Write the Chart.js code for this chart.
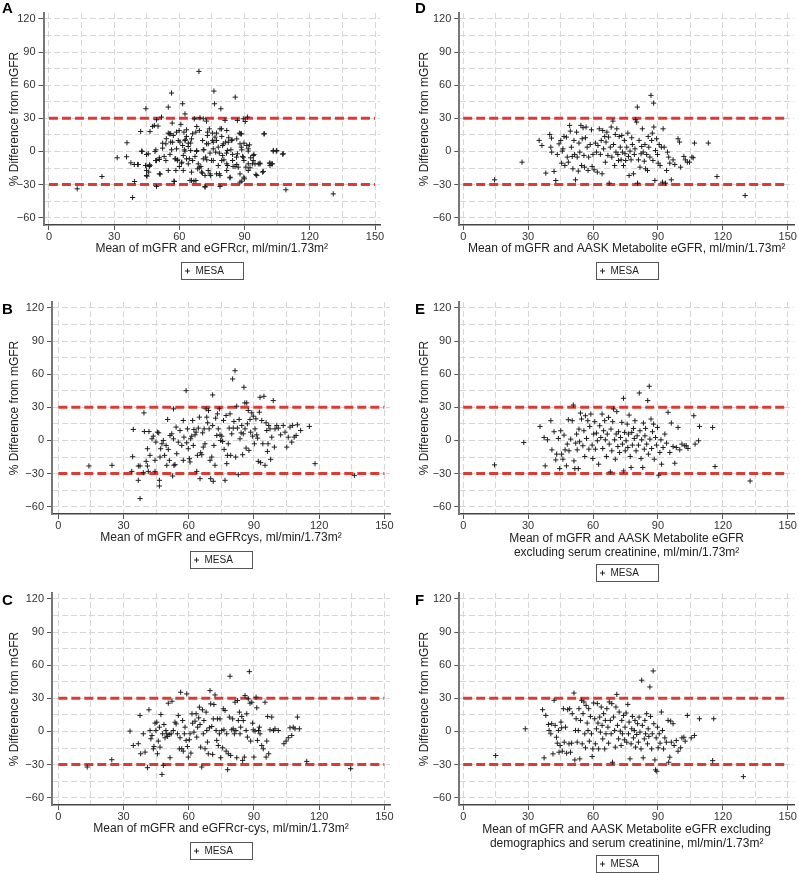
<!DOCTYPE html>
<html>
<head>
<meta charset="utf-8">
<title>Bland-Altman plots, MESA</title>
<script src="https://cdn.jsdelivr.net/npm/chart.js@4.4.1/dist/chart.umd.min.js"></script>
<style>
  body { margin: 0; background: #fff; }
  #wrap { position: relative; width: 799px; height: 873px; overflow: hidden; background: #fff; }
  #wrap canvas { position: absolute; }
</style>
</head>
<body>
<div id="wrap">
  <canvas id="panelA" width="400" height="293" style="left:0;top:0"></canvas>
  <canvas id="panelB" width="400" height="293" style="left:0;top:289px"></canvas>
  <canvas id="panelC" width="400" height="293" style="left:0;top:580px"></canvas>
  <canvas id="panelD" width="399" height="293" style="left:400px;top:0"></canvas>
  <canvas id="panelE" width="399" height="293" style="left:400px;top:289px"></canvas>
  <canvas id="panelF" width="399" height="293" style="left:400px;top:580px"></canvas>
</div>
<script>
// Tick values and labels
const xTicks = [0, 15, 30, 45, 60, 75, 90, 105, 120, 135, 150];
const yTicks = [-60, -45, -30, -15, 0, 15, 30, 45, 60, 75, 90, 105, 120];
const limitValues = [-30, 30];
const limitRange = [0, 150];
const seriesName = 'MESA';
const yTitle = '% Difference from mGFR';

const xTitles = [
  'Mean of mGFR and eGFRcr, ml/min/1.73m\u00b2',
  'Mean of mGFR and eGFRcys, ml/min/1.73m\u00b2',
  'Mean of mGFR and eGFRcr-cys, ml/min/1.73m\u00b2',
  'Mean of mGFR and AASK Metabolite eGFR, ml/min/1.73m\u00b2',
  ['Mean of mGFR and AASK Metabolite eGFR', 'excluding serum creatinine, ml/min/1.73m\u00b2'],
  ['Mean of mGFR and AASK Metabolite eGFR excluding', 'demographics and serum creatinine, ml/min/1.73m\u00b2']
];

// [mean, % difference] pairs
const pointsA = [
  [13,-33.8],[24.4,-22.7],[31.4,-5.7],[35.9,7.9],[35.7,-4.8],[37.7,-10.3],[38.5,-41.7],[39.4,-27.2],[39.3,-11.8],[40.8,-11.8],
  [42.2,18.1],[42.9,0],[44.6,38.7],[44.5,-12.7],[44.9,-2.7],[45.1,-22.4],[45.9,-18.7],[46.5,-12.7],[46.5,18],[47.7,22.7],
  [48.5,23.6],[48.8,0],[49.1,-8.2],[49.5,-31.7],[49.5,28.7],[50.2,23],[50.8,-7.3],[51.2,-20.5],[51.8,31.1],[52.3,3],
  [53,-4.5],[54,11.5],[54.9,40.2],[56.4,52.9],[55.4,16],[56,8.5],[55.7,-2.7],[56.7,25.7],[57.2,14.5],[57.7,-27.2],
  [58.3,-6.6],[58.7,17.5],[59.2,-7.6],[59.9,19],[60.3,8.5],[60.7,24.5],[61,-10.6],[61.5,43.2],[61.5,5.4],[61.8,-3.6],
  [62.3,1.5],[62.6,34],[62.7,10.6],[63.3,19.6],[64.1,-11.2],[64.6,-6.6],[65.2,7.6],[65.6,-26.3],[66.1,16],[66.9,29.6],
  [67.2,-4.5],[67.6,-26.3],[67.9,0],[68.4,-15.7],[69,72.5],[69.2,19],[69.5,30.5],[69.9,-13.6],[70.6,-19.6],[71,29.6],
  [71.3,1.5],[71.8,-32.3],[72.1,-5.1],[72.5,27.5],[72.9,14.5],[73.3,7],[73.8,20.5],[74.4,-21.8],[74.8,-8.2],[75.3,10],
  [75.9,54.7],[76.2,43.2],[76.7,-0.6],[77.1,16.6],[77.9,3.9],[78.4,-20.2],[78.7,-31.7],[79.1,38.7],[79.4,20.5],[79.9,5.4],
  [80.5,-7.6],[81,28.1],[81.3,8.5],[81.7,-1.5],[82.2,-12.7],[82.7,12.4],[83.3,-23.9],[83.7,1.5],[84.2,10.6],[84.7,-13.6],
  [85.7,49.2],[86.3,-5.1],[86.7,28.1],[87.1,-14.2],[87.9,-27.8],[88.2,16],[88.5,3.9],[89.1,-4.5],[89.4,29.6],[89.9,-24.8],
  [90.3,27.2],[90.6,-14.2],[91.3,31.1],[91.7,2.4],[92.3,6],[92.8,-5.7],[93.6,-11.2],[94.3,-2.7],[95.2,-20.8],[96.3,-11.2],
  [97.1,-10.6],[98.6,-18.1],[99.1,16],[101.4,-10.6],[102.5,-11.2],[103.2,0.3],[104.6,0.3],[107.5,-2.4],[109,-34.7],[130.8,-38.4],
  [54.9,16.6],[56,16],[62.1,17.5],[63.3,13.6],[67.6,17.5],[68,22.6],[73,17.5],[75.3,16.6],[76.4,13],[78.7,20.5],
  [81.8,19],[87.6,16.6],[88.6,16],[79.5,13.6],[98.9,16],[52.3,7.5],[53.8,6.9],[56.9,8.4],[59.5,9.9],[62.6,9.9],
  [64.1,7.5],[65.6,11.4],[70.7,9.9],[72.5,6.9],[75.6,8.4],[77.1,9.9],[80.2,6.9],[82.5,8.4],[84.1,9.9],[86.4,11.4],
  [87.9,6.9],[89.7,7.5],[91,5.4],[64.1,4.5],[42.6,0.3],[45.7,-2.1],[49.2,1.5],[56.4,1.5],[58.7,2.4],[62.6,0.3],
  [65.2,0.9],[68,0.9],[71,1.5],[74.1,-1.5],[75.6,2.4],[78.4,-1.5],[79.9,-3.7],[82.1,0.9],[84.5,-2.7],[86.7,-2.1],
  [88.7,1.5],[91.7,0.3],[94,-3.7],[103.2,0.9],[104.8,0.9],[107.8,-2.1],[94,-8.2],[41.1,-11.8],[44.6,-12.7],[46.2,-12.1],
  [49.5,-8.2],[50.8,-5.8],[53.8,-8.2],[58,-6.7],[59.1,-8.2],[61.1,-9.7],[63.3,-6.7],[66.1,-8.2],[68.7,-11.2],[71,-6.7],
  [72.6,-7.6],[75.6,-8.2],[77.9,-12.7],[79.5,-8.2],[81.8,-11.2],[84.5,-8.2],[86.4,-11.8],[89.4,-5.2],[89.7,-8.2],[91.7,-11.2],
  [94.8,-11.2],[97.1,-11.2],[101.7,-10.6],[102.8,-11.2],[44.9,-17.2],[46.2,-13.6],[50.8,-20.3],[54.9,-17.2],[58.4,-17.2],[60,-13.6],
  [61.8,-17.2],[65.6,-18.7],[69.2,-14.8],[70.2,-18.7],[71.8,-21.8],[73.3,-17.2],[74.1,-20.3],[77.1,-20.3],[78.7,-21.8],[81.8,-17.2],
  [83.3,-23.3],[85.6,-13.6],[87.9,-20.3],[91.7,-17.2],[92.5,-14.8],[95.6,-21.8],[98.3,-18.7],[101.7,-12.7],[44.9,-21.8],[57.5,-26.9],
  [64.9,-26.3],[66.7,-26.9],[71.8,-31.7],[88.7,-26.9],[89.7,-23.3]
];

const pointsB = [
  [14.1,-23.1],[24.7,-22.5],[33.8,-28],[34.2,-14.7],[34.5,10],[36.8,-23.1],[37.6,-23.1],[36.8,-36.1],[37.6,-52.6],[39.1,-29.2],
  [39.4,25],[39.6,8.1],[40.4,-18.9],[41,-23.1],[41,-7.5],[41.4,-28],[41.7,8.1],[42.2,-13.5],[43.1,1.5],[43.7,3.9],
  [44.5,-28],[44.5,-18],[44.9,-1.5],[45.6,7.5],[46.2,6.9],[46.5,-36.1],[46.5,-41.2],[46.8,-15],[47.1,-7.5],[47.7,-3],
  [48.3,0],[48.9,-13.5],[49.6,-4.5],[49.9,-22.5],[50.3,19],[50.6,-8.1],[51.1,-18],[51.4,4.5],[52.2,6],[52.6,-32.2],
  [53,28.6],[53,1.5],[53.2,-22.5],[53.7,-21.9],[54.2,12.1],[54.5,-12],[55.2,-1.5],[56,9],[56.8,-4.5],[57.5,18.1],
  [57.5,-18],[57.8,3],[58.8,45.1],[59.1,-2.1],[59.4,10.5],[59.8,-7.5],[60.3,-16.5],[60.6,-19.5],[60.9,1.5],[61.4,3.9],
  [61.8,18.1],[62.1,-4.5],[62.4,10],[62.9,5.1],[63.4,7.5],[63.7,-28],[64,-13.5],[64.4,11.2],[64.9,21.1],[65.2,-34.6],
  [65.5,-11.1],[66,-12.9],[66.4,6.9],[66.7,-6],[67.1,10.5],[67.5,-3],[68,28.6],[68.3,21.1],[68.7,16],[69.1,27.1],
  [69.4,10.5],[69.8,-18],[70.1,-34.6],[70.6,-15],[71,41.2],[71,13.6],[71.3,-37],[71.6,-4.5],[72.1,-22.5],[72.4,20.2],
  [72.9,4.5],[73.2,24.1],[73.6,10.5],[74.1,28.6],[74.4,5.1],[74.7,0],[75.2,3.9],[75.6,-0.9],[76,18.1],[76.3,-8.1],
  [76.7,-36.1],[77.2,22.6],[77.5,-21],[77.8,-13.5],[78.2,-3],[78.6,11.2],[79,24.1],[79.3,-13.5],[79.8,6],[80.2,55.7],
  [80.5,11.2],[80.8,17.2],[81.3,63.2],[81.6,-15],[82.1,31],[82.4,11.2],[82.8,-31],[83.2,19],[83.6,1.5],[84.1,6.9],
  [84.4,13.6],[84.8,-12.9],[85.1,6],[85.4,48.2],[85.8,34],[85.9,10.5],[86.4,-6.9],[86.7,34],[87,15.1],[87.4,27.1],
  [87.7,-9],[88.2,19],[88.5,7.5],[89,25],[89.4,3.9],[89.7,22],[90.2,-3],[90.5,10.5],[90.9,19.6],[91.3,5.1],
  [91.7,2.1],[92,-18.9],[92.5,25.6],[92.8,39.1],[93.1,-20.1],[93.6,18.1],[94.1,-3],[94.6,40],[95.1,-22.5],[95.6,16],
  [95.9,9],[96.2,-9.9],[96.5,-3],[96.8,13.6],[97.4,10.5],[97.7,-17.1],[98.2,3],[98.9,36.1],[99.4,-6],[99.7,10.5],
  [100.5,13.6],[101.2,11.2],[102.3,5.1],[103.5,13.6],[104.3,7.5],[105.1,-6],[105.8,3],[106.6,12.1],[107.4,-1.5],[107.8,13.6],
  [108.5,3],[109.4,4.5],[110,14.2],[111.5,9],[115.5,12.7],[118.1,-21],[136.2,-31.6]
];

const pointsC = [
  [13.3,-32.2],[24.6,-25.6],[33,0.3],[34.5,-12.7],[36.8,-11.1],[37.6,14.5],[37.9,-20.2],[39.1,-2.1],[39.9,-18.7],[41,-32.8],
  [41.7,19.6],[42.2,0.9],[42.6,-6.6],[43.1,-3.6],[43.7,-15.7],[44,-13.6],[44.5,7.5],[44.9,0.9],[45.3,8.4],[45.6,-20.2],
  [46,-8.7],[46.5,3.9],[46.8,-14.2],[47.2,15.4],[47.7,-38.9],[48,-2.1],[48.3,-30.7],[48.6,6.3],[49.1,-5.7],[49.5,0.9],
  [49.9,-2.1],[50.3,-4.5],[50.6,25.6],[51,-2.7],[51.4,-23.8],[51.9,-2.1],[52.3,27.4],[52.9,0.9],[53.7,8.4],[54.2,6.9],
  [54.8,-2.1],[55.2,14.5],[55.7,-15.7],[56,-5.7],[56.3,35.5],[56.8,-15.7],[57.2,9.9],[57.5,-17.8],[58,-2.1],[58.3,3.9],
  [58.8,-8.1],[59.1,34],[59.4,-13.6],[59.8,-23.2],[60.3,-7.5],[60.6,-2.1],[61,-19.6],[61.5,16],[61.8,7.5],[62.4,-0.6],
  [62.9,9.3],[63.4,16],[63.7,-5.1],[64.1,3.9],[64.6,12.3],[64.9,22],[65.2,6.3],[65.5,-14.2],[66,-32.2],[66.3,19.6],
  [66.7,-2.1],[67,9.9],[67.5,-15.7],[68,17.5],[68.3,0.9],[68.6,-9.6],[69,-20.2],[69.5,3.3],[69.8,37],[70.1,25],
  [70.6,4.5],[71,-20.8],[71.3,11.4],[71.6,24.4],[72.1,33.1],[72.6,0.9],[72.9,-8.1],[73.2,11.4],[73.6,-12.7],[74.1,-2.1],
  [74.4,11.4],[74.7,-23.8],[75.2,0.9],[75.6,-14.8],[75.9,20.5],[76.2,1.5],[76.7,19],[77.2,-17.8],[77.5,-2.1],[77.9,-34.6],
  [78.2,-20.2],[78.7,13],[79,50],[79.3,-21.7],[79.8,1.5],[80.2,11.4],[80.5,2.4],[81,-2.1],[81.3,26.5],[81.7,0.9],
  [82.1,-23.8],[82.4,28],[82.8,9.9],[83.3,17.5],[83.6,-2.1],[83.9,3.9],[84.4,13.6],[84.8,-26.2],[85.1,9.9],[85.6,-23.2],
  [85.9,32.5],[86.4,0.9],[86.7,16],[87,-5.1],[87.4,29.5],[87.9,54.2],[88.2,25.6],[88.5,-8.7],[89,26.5],[89.4,7.5],
  [89.7,1.5],[90,-23.2],[90.5,0.3],[91,31],[91.3,21.4],[91.6,-8.1],[92.1,0.9],[92.5,3.9],[92.8,-2.1],[93.6,-12.7],
  [94.3,-15.7],[95.1,26.5],[95.6,-23.2],[95.9,-8.7],[96.3,13.6],[96.8,-20.2],[97.4,1.5],[98.2,13],[99,0.9],[99.7,2.4],
  [101.2,0.9],[103.8,-11.1],[104.8,-8.7],[105.8,-5.7],[106.6,3.3],[107.4,-3.6],[108.1,3.9],[108.9,2.4],[110,13],[110.9,2.4],
  [114.3,-27.1],[134.5,-33.7]
];

const pointsD = [
  [14.5,-25.7],[27.2,-9.7],[35.1,10],[36.4,5.4],[38.2,-19.6],[40,15.4],[40.5,3.9],[40.8,12.1],[40.9,-0.6],[42,-18.1],
  [42.8,-26.3],[43.5,-2.7],[44.3,6.9],[45.1,10],[45.5,-10.6],[45.8,0.3],[46.1,2.4],[46.6,13.6],[47,-12.7],[47.7,13],
  [48.1,-5.1],[48.6,-9.7],[49.2,23.6],[49.5,18.4],[50,3.9],[50.4,-4.5],[50.7,-15.7],[51.2,10],[51.5,-2.7],[51.9,-25.7],
  [52.4,17.5],[52.7,-5.1],[53.2,-17.8],[53.5,7.6],[53.9,-0.6],[54.4,23.6],[54.7,-12.7],[55,11.5],[55.4,21.5],[55.8,-3.6],
  [56.1,-14.2],[56.5,12.4],[56.8,22.1],[57.3,3.9],[57.7,-17.2],[58,-5.1],[58.7,6.3],[59.3,19.6],[59.6,-13.6],[60,-2.7],
  [60.5,-16.6],[61.1,7.6],[61.6,-0.6],[62,-18.7],[62.3,5.4],[62.9,20.5],[63.4,-2.7],[63.8,10],[64.2,-20.2],[64.5,19],
  [64.9,2.4],[65.4,13.6],[65.7,-9.7],[66,8.5],[66.4,17.5],[66.9,-3.6],[67.2,13],[67.5,-28.7],[68,3.9],[68.4,22.1],
  [68.7,-5.1],[69.2,27.5],[69.5,6.3],[70,-12.7],[70.3,15.4],[70.6,-0.6],[71,20.5],[71.5,-2.7],[71.8,-8.2],[72.1,13.6],
  [72.6,3.9],[73,-7.6],[73.3,14.5],[73.6,-0.6],[74.1,-12.7],[74.5,10],[74.8,-2.1],[75.1,-8.2],[75.6,3.9],[76.1,16.6],
  [76.4,-4.5],[76.7,-21.8],[77.1,0.3],[77.6,-7.6],[77.9,12.4],[78.2,6.3],[78.7,-20.2],[79.1,-2.7],[79.4,2.4],[79.7,28.7],
  [80.2,26.6],[80.5,40.2],[80.6,-28.7],[81,-7.6],[81.3,10],[81.7,-14.2],[82.2,-2.1],[82.5,4.5],[82.8,20.5],[83.2,-0.6],
  [83.7,-8.8],[84,6.3],[84.3,-15.7],[84.8,-2.7],[85.2,-17.2],[85.5,13.6],[85.8,3.9],[86.3,-5.1],[86.8,50.8],[87.1,10],
  [87.4,16.6],[87.7,-8.2],[88,43.8],[88.1,22.1],[88.6,-26.3],[88.9,0.9],[89.4,11.5],[89.8,-2.7],[90.1,-10.6],[90.6,6.3],
  [91,-12.7],[91.6,3.9],[92.1,-27.8],[92.4,20.5],[92.9,3.9],[93.5,-28.7],[94,-17.2],[94.4,-0.6],[95,-5.1],[95.5,-10.6],
  [96.2,-25.7],[97,-7.6],[97.8,-11.8],[99.3,11.5],[100,8.5],[100.5,-14.2],[102,-4.5],[102.7,-7.6],[103.6,-9.7],[104.6,-9.7],
  [105.7,-5.1],[106.3,-5.7],[106.9,7.6],[113.3,7.6],[117.3,-22.7],[130.3,-39.9]
];

const pointsE = [
  [14.5,-22.1],[28,-1.8],[35.5,12.7],[37.4,2.7],[37.9,-23],[39,0.6],[40.5,17.9],[41,-8.5],[42,7.9],[42.8,-17.6],
  [43.2,-12.4],[44,1.8],[44.6,-25.5],[45.1,8.8],[45.5,-12.4],[46.1,-17],[46.6,4.8],[47.1,-8.5],[47.7,-23],[48.1,-3.3],
  [48.6,18.8],[48.9,-9.4],[49.7,1.2],[50.4,17.9],[50.9,32.1],[51.2,-18.5],[51.6,-25.5],[52,-2.4],[52.4,5.8],[52.7,-8.5],
  [53.2,-25.5],[53.5,10.3],[53.8,-1.2],[54.2,24.8],[54.7,19.4],[55.3,-4.8],[55.8,8.8],[56.2,-14.5],[56.5,22.4],[57,1.8],
  [57.6,17.9],[58.1,-7.9],[58.5,12.7],[59,23.9],[59.6,-4.2],[59.9,-16.4],[60.3,5.8],[60.8,17],[61.1,-7.9],[61.6,6.7],
  [62,-0.3],[62.6,-21.5],[63.1,13.3],[63.6,2.7],[64.2,23.9],[64.5,-7.3],[64.9,8.8],[65.4,17.9],[65.7,0.6],[66.2,-14.5],
  [66.6,5.8],[67.2,20.9],[67.5,-3.3],[68,-28.5],[68.3,10.3],[68.7,-9.4],[69.1,17],[69.5,28.5],[70,0.6],[70.3,-17],
  [70.7,5.8],[71,26.1],[71.5,-5.5],[71.8,7.9],[72.3,-10.9],[72.7,2.7],[73.3,16.4],[73.6,-3.3],[74.1,38.2],[74.2,-27.6],
  [74.6,7.3],[74.9,-9.4],[75.3,-0.3],[75.8,14.8],[76.1,-6.4],[76.4,5.8],[76.7,23],[77.2,-14.5],[77.6,-24.5],[77.9,7.3],
  [78.2,-4.2],[78.7,10.9],[79.1,1.8],[79.4,17.9],[79.9,-9.4],[80.4,4.2],[81,-4.2],[81.4,43],[81.7,8.8],[82.2,-16.4],
  [82.5,0.6],[83,-24.5],[83.3,15.8],[83.7,-7.9],[84,4.2],[84.3,10.9],[84.8,-3.3],[85.3,36.1],[85.6,-12.4],[86,49.1],
  [86.3,1.2],[86.8,19.4],[87.1,-7.3],[87.5,7.9],[88,14.8],[88.3,-17],[88.9,2.7],[89.4,-4.2],[89.8,11.8],[90.4,-31.5],
  [90.9,-10.9],[91.4,0.6],[91.7,-21.5],[92.4,-6.4],[93.2,5.8],[94,-2.4],[94.7,25.5],[95.5,-10.9],[96.2,15.8],[97,-5.5],
  [97.8,-20.6],[98.5,-6.4],[99.3,11.8],[100.1,-8.5],[101.1,-3.3],[102.4,-4.8],[103.1,-4.8],[103.9,-7.3],[106.6,22.4],[107.2,-3.3],
  [108.8,-0.3],[109.2,12.7],[115.3,11.8],[116.4,-23.6],[132.6,-36.7]
];

const pointsF = [
  [15,-21.8],[28.7,2.4],[36.7,19.7],[37.4,-23.9],[38.2,14.5],[39.4,6.4],[39.7,0.9],[40.5,-2.1],[40.9,7],[41.5,-20.3],
  [42,28.2],[42.5,5.5],[43.1,-5.2],[43.5,-10.6],[44,0.9],[44.3,-18.8],[44.8,-12.7],[45.2,8.5],[45.5,3.3],[45.8,-17.9],
  [46.3,20.6],[46.7,-9.7],[47.3,3.9],[47.8,-19.7],[48.3,19.7],[48.9,-11.2],[49.2,20.6],[49.6,-18.8],[50.1,-10.6],[50.4,16.1],
  [51.2,34.8],[51.6,-25.8],[51.9,0.9],[52.2,11.5],[52.7,-9.7],[53.2,0.9],[53.5,20.6],[53.9,-24.8],[54.2,10],[54.7,28.2],
  [55,-11.2],[55.4,16.1],[55.8,26.7],[56.2,-2.1],[56.5,-14.8],[56.8,23.6],[57.3,7.6],[57.7,0.9],[58,20.6],[58.3,-8.8],
  [58.8,13.6],[59.3,-2.1],[59.6,-22.7],[59.9,-15.8],[60.3,25.8],[60.8,11.5],[61.1,-11.2],[61.6,2.4],[62,25.2],[62.3,7.6],
  [62.6,-15.8],[63.1,13],[63.4,-0.6],[63.8,22.1],[64.2,5.5],[64.5,-6.7],[64.9,16.1],[65.4,-15.8],[65.7,10],[66,-2.1],
  [66.4,20.6],[66.9,3.9],[67.2,-10.6],[67.5,26.7],[68,10],[68.4,-2.1],[68.7,25.2],[69,-27.9],[69.5,13],[70,0.9],
  [70.3,-14.2],[70.6,22.1],[71,33.6],[71.3,5.5],[71.8,-6.7],[72.1,17.6],[72.6,0.3],[73,-12.7],[73.3,10],[73.6,-2.1],
  [74.1,14.5],[74.5,-7.6],[74.8,3.9],[75.3,16.7],[75.6,-9.7],[76.1,24.5],[76.4,-2.1],[76.7,8.5],[77.1,-24.8],[77.6,-11.2],
  [77.9,2.4],[78.2,13.6],[78.7,-5.8],[79.1,0.9],[79.4,10],[79.7,-14.2],[80.2,-2.7],[80.6,7],[81,-9.7],[81.3,13],
  [81.7,-0.6],[82.2,-15.8],[82.5,46.4],[82.8,5.5],[83.2,-23.9],[83.7,-6.7],[84,10],[84.3,-2.1],[84.8,16.1],[85.2,-11.2],
  [85.5,2.4],[85.8,-4.5],[86.3,40.3],[86.6,13.6],[87.1,-15.8],[87.4,-2.1],[87.8,54.8],[88.1,7],[88.6,-25.8],[88.9,-34.8],
  [89.2,-5.8],[89.5,-36.1],[89.8,3.9],[90.1,-14.8],[90.6,-2.1],[91,-10.6],[91.6,17.6],[92.1,0.9],[92.6,-15.8],[93.2,-5.8],
  [93.9,-9.7],[94.7,10],[95,-27.9],[95.5,-23.3],[95.9,9.4],[96.2,-9.7],[97,7],[97.5,-12.7],[98.5,-8.2],[99.3,-17.9],
  [100.5,-14.8],[101.1,-5.8],[102,-5.2],[102.6,-8.8],[103.6,14.5],[105.4,-5.8],[106.9,-3.6],[109.2,11.5],[115.3,-26.4],[115.8,11.5],
  [129.5,-40.9]
];

Chart.defaults.font.family = "'Liberation Sans', Arial, Helvetica, sans-serif";
Chart.defaults.color = '#333';

function tickLabel(v) {
  if (v % 30 !== 0) return '';
  return v < 0 ? '\u2212' + Math.abs(v) : String(v);
}

// Panel letter and the boxed legend under the x axis title
const panelDecor = {
  id: 'panelDecor',
  afterDraw(chart, args, opts) {
    const ctx = chart.ctx;
    const area = chart.chartArea;
    const xScale = chart.scales.x;
    ctx.save();
    ctx.font = "bold 15px 'Liberation Sans', Arial, sans-serif";
    ctx.fillStyle = '#000';
    ctx.textBaseline = 'top';
    ctx.textAlign = 'left';
    ctx.fillText(opts.letter, opts.letterX, opts.letterY);

    const w = 62, h = 17;
    const left = Math.round((area.left + area.right) / 2 - w / 2) + 0.5;
    const top = Math.round(xScale.bottom + opts.legendGap) + 0.5;
    ctx.strokeStyle = '#555';
    ctx.lineWidth = 1;
    ctx.strokeRect(left, top, w, h);
    const cx = left + 6, cy = top + h / 2;
    ctx.strokeStyle = '#222';
    ctx.beginPath();
    ctx.moveTo(cx - 2.5, cy); ctx.lineTo(cx + 2.5, cy);
    ctx.moveTo(cx, cy - 2.5); ctx.lineTo(cx, cy + 2.5);
    ctx.stroke();
    ctx.font = "10px 'Liberation Sans', Arial, sans-serif";
    ctx.fillStyle = '#222';
    ctx.textBaseline = 'middle';
    ctx.fillText(chart.data.datasets[0].label, left + 14, cy + 0.5);
    ctx.restore();
  }
};

const CANVAS_H = 293;
const AREA_TOP = 13;
const AREA_BOTTOM = 225;

const panels = [
  { id: 'panelA', letter: 'A', points: pointsA, title: xTitles[0], axisLeft: 43.5, xMin: -2.5, xMax: 152.3, padRight: 20, titlePad: 7.8, letterX: 2, letterY: 1 },
  { id: 'panelB', letter: 'B', points: pointsB, title: xTitles[1], axisLeft: 52, xMin: -2.9, xMax: 152.6, padRight: 10, titlePad: 7.8, letterX: 2, letterY: 13 },
  { id: 'panelC', letter: 'C', points: pointsC, title: xTitles[2], axisLeft: 52, xMin: -2.9, xMax: 152.6, padRight: 10, titlePad: 7.8, letterX: 2, letterY: 13 },
  { id: 'panelD', letter: 'D', points: pointsD, title: xTitles[3], axisLeft: 59.3, xMin: -1.8, xMax: 152.9, padRight: 2, titlePad: 17.8, letterX: 15, letterY: 1 },
  { id: 'panelE', letter: 'E', points: pointsE, title: xTitles[4], axisLeft: 59.3, xMin: -1.8, xMax: 152.9, padRight: 2, titlePad: 17.8, letterX: 15, letterY: 13 },
  { id: 'panelF', letter: 'F', points: pointsF, title: xTitles[5], axisLeft: 59.3, xMin: -1.8, xMax: 152.9, padRight: 2, titlePad: 17.8, letterX: 15, letterY: 13 }
];

function tickMarkColor(c) {
  return c.tick && c.tick.value % 30 === 0 ? '#555' : 'rgba(0,0,0,0)';
}

function makePanel(p) {
  const ctx = document.getElementById(p.id).getContext('2d');
  const twoLine = Array.isArray(p.title);
  const xHeight = twoLine ? 46 : 30.5;

  const limitSets = limitValues.map(v => ({
    label: 'limit ' + v,
    data: limitRange.map(x => ({ x: x, y: v })),
    showLine: true,
    pointRadius: 0,
    borderColor: '#dc3a35',
    borderWidth: 3,
    borderDash: [9, 4]
  }));

  return new Chart(ctx, {
    type: 'scatter',
    data: {
      datasets: [{
        label: seriesName,
        data: p.points.map(([x, y]) => ({ x: x, y: y })),
        pointStyle: 'cross',
        pointRadius: 2.6,
        borderWidth: 1,
        borderColor: '#1e1e1e',
        backgroundColor: '#1e1e1e'
      }].concat(limitSets)
    },
    options: {
      responsive: false,
      animation: false,
      events: [],
      layout: {
        padding: { left: 0, top: AREA_TOP, right: p.padRight, bottom: CANVAS_H - AREA_BOTTOM - xHeight }
      },
      plugins: {
        legend: { display: false },
        tooltip: { enabled: false },
        panelDecor: { letter: p.letter, letterX: p.letterX, letterY: p.letterY, legendGap: twoLine ? 4 : 6 }
      },
      scales: {
        x: {
          type: 'linear',
          position: 'bottom',
          min: p.xMin,
          max: p.xMax,
          afterBuildTicks: axis => { axis.ticks = xTicks.map(v => ({ value: v })); },
          afterFit: axis => { axis.height = xHeight; },
          ticks: { autoSkip: false, maxRotation: 0, padding: 0, color: '#333', font: { size: 11 }, callback: v => tickLabel(v) },
          grid: { color: '#d6d6d6', lineWidth: 1, tickLength: 5, tickWidth: 1, tickColor: tickMarkColor },
          border: { display: true, color: '#444', width: 1.5, dash: [6, 3] },
          title: { display: true, text: p.title, color: '#222', font: { size: 12 }, padding: { top: 0, bottom: 0 } }
        },
        y: {
          type: 'linear',
          position: 'left',
          min: -66.6,
          max: 125.4,
          afterBuildTicks: axis => { axis.ticks = yTicks.map(v => ({ value: v })); },
          afterFit: axis => { axis.width = p.axisLeft; },
          ticks: { autoSkip: false, padding: 3, color: '#333', font: { size: 11 }, callback: v => tickLabel(v) },
          grid: { color: '#d6d6d6', lineWidth: 1, tickLength: 5, tickWidth: 1, tickColor: tickMarkColor },
          border: { display: true, color: '#777', width: 2, dash: [6, 3] },
          title: { display: true, text: yTitle, color: '#222', font: { size: 12 }, padding: { top: p.titlePad, bottom: 0 } }
        }
      }
    },
    plugins: [panelDecor]
  });
}

panels.forEach(makePanel);
</script>
</body>
</html>
